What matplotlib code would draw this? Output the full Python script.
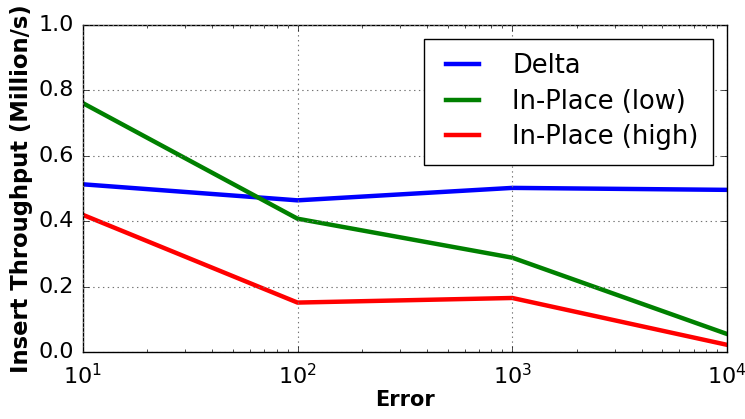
import numpy as np
import matplotlib
matplotlib.use("Agg")
import matplotlib.pyplot as plt

# values
errors = [10, 100, 1000, 10000]
delta = [0.513, 0.464, 0.502, 0.496]
inplace_low = [0.761, 0.408, 0.289, 0.056]
inplace_high = [0.42, 0.152, 0.166, 0.023]

plt.style.use('classic')
plt.rcParams['font.family'] = ['DejaVu Sans']

fig = plt.figure(figsize=(7.45, 4.19), dpi=100, facecolor='white')
ax = fig.add_axes([0.111, 0.159, 0.865, 0.782])

ax.plot(errors, delta, color='b', lw=3.2, label='Delta')
ax.plot(errors, inplace_low, color='g', lw=3.2, label='In-Place (low)')
ax.plot(errors, inplace_high, color='r', lw=3.2, label='In-Place (high)')

ax.set_xscale('log')
ax.set_xlim(10, 10000)
ax.set_ylim(0, 1.0)
ax.set_yticks([0.0, 0.2, 0.4, 0.6, 0.8, 1.0])
ax.tick_params(labelsize=16)
ax.tick_params(axis='x', pad=8)
ax.tick_params(axis='y', pad=6)
ax.grid(True, linestyle=(0, (1, 2.5)), color='0.45', lw=0.8)

ax.set_xlabel('Error', fontsize=15, fontweight='bold', labelpad=1)
ax.set_ylabel('Insert Throughput (Million/s)', fontsize=16.3, fontweight='bold', labelpad=4)

leg = ax.legend(loc='upper right', fontsize=18.5, handlelength=1.9, borderpad=0.55,
                labelspacing=0.38, handletextpad=1.0, borderaxespad=0,
                bbox_to_anchor=(0.978, 0.957))
leg.get_frame().set_linewidth(1)

fig.savefig('out.png', dpi=100, facecolor='white')
